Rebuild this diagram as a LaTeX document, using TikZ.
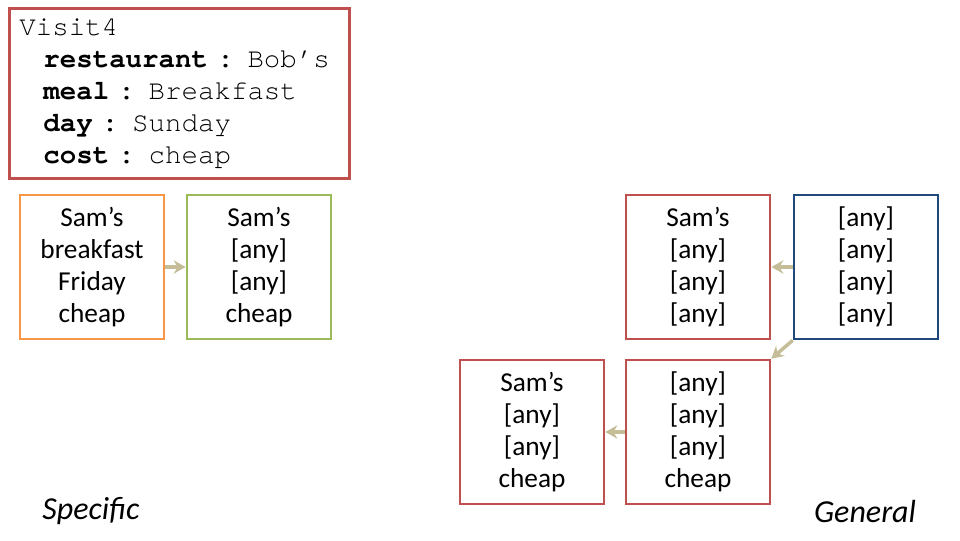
\documentclass[tikz,border=0pt]{standalone}
\usepackage{fontspec}
\setmainfont{Carlito}
\newfontfamily\codefont{TeX Gyre Cursor}
\usetikzlibrary{arrows.meta}
\definecolor{boxred}{RGB}{192,80,77}
\definecolor{boxorange}{RGB}{247,150,70}
\definecolor{boxgreen}{RGB}{155,187,89}
\definecolor{boxblue}{RGB}{31,73,125}
\definecolor{linktan}{RGB}{196,189,151}

\begin{document}
\begin{tikzpicture}[
  x=0.75pt, y=-0.75pt,
  card/.style={draw, line width=2pt, minimum width=108pt, minimum height=108pt,
    inner sep=0pt, align=center, font=\fontsize{20.5}{24}\selectfont},
  record/.style={draw=boxred, line width=2pt, anchor=north west, text width=240pt,
    inner xsep=7.5pt, minimum height=127.5pt, align=left,
    font=\codefont\fontsize{20.6}{24}\selectfont},
  link/.style={draw=linktan, line width=2.6pt,
    -{Stealth[length=9pt, width=10pt, inset=3pt]}},
  side/.style={font=\fontsize{24}{28}\selectfont\itshape}
]
\useasboundingbox (0,0) rectangle (960,540);

% --- the visit ---
\node[record] (visit) at (8,7) {Visit4\\
  \hspace*{18pt}\textbf{restaurant :} Bob’s\\
  \hspace*{18pt}\textbf{meal :} Breakfast\\
  \hspace*{18pt}\textbf{day :} Sunday\\
  \hspace*{18pt}\textbf{cost :} cheap};

% --- specific side ---
\node[card, draw=boxorange] (specSam) at (92,267)  {Sam’s\\breakfast\\Friday\\cheap};
\node[card, draw=boxgreen]  (specAny) at (259,267) {Sam’s\\{[any]}\\{[any]}\\cheap};

% --- general side ---
\node[card, draw=boxblue] (genAll)   at (866,267) {{[any]}\\{[any]}\\{[any]}\\{[any]}};
\node[card, draw=boxred]  (genSam)   at (698,267) {Sam’s\\{[any]}\\{[any]}\\{[any]}};
\node[card, draw=boxred]  (genCheap) at (698,432) {{[any]}\\{[any]}\\{[any]}\\cheap};
\node[card, draw=boxred]  (genBoth)  at (532,432) {Sam’s\\{[any]}\\{[any]}\\cheap};

% --- links ---
\draw[link] (specSam) -- (specAny);
\draw[link] (genAll) -- (genSam);
\draw[link] (genAll.south west) -- (genCheap.north east);
\draw[link] (genCheap) -- (genBoth);

% --- labels ---
\node[side] (specific) at (91,511)  {Specific};
\node[side] (general)  at (865,511) {General};

\end{tikzpicture}
\end{document}
